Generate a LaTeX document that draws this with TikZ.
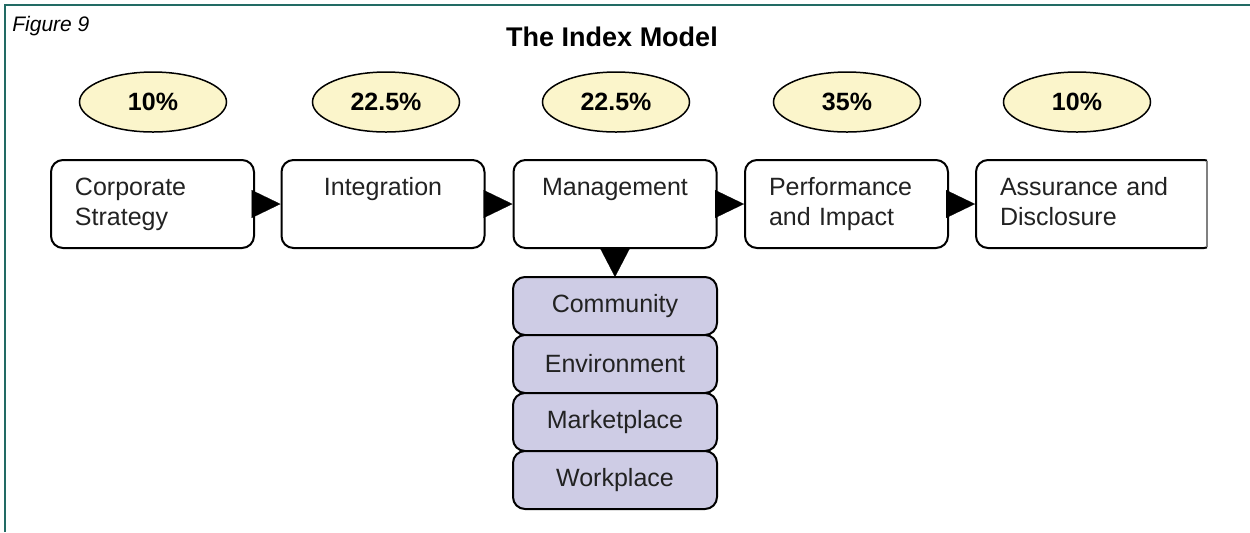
\documentclass[tikz,border=0pt]{standalone}
\usepackage{fontspec}
\setmainfont{Liberation Sans}
\usetikzlibrary{positioning,shapes.geometric,arrows.meta}
\definecolor{frameteal}{HTML}{226B64}
\definecolor{pctyellow}{HTML}{FBF5CB}
\definecolor{sublilac}{HTML}{CECCE5}
\definecolor{boxtext}{HTML}{222222}

\begin{document}
\begin{tikzpicture}[x=0.5pt,y=-0.5pt,
  stage/.style={draw=black, line width=1pt, rounded corners=6pt, fill=white, text=boxtext,
    minimum height=44pt, inner xsep=12pt, inner ysep=0pt, text width=77.5pt, align=left,
    font=\fontsize{12.5}{15}\selectfont,
    execute at begin node=\strut, execute at end node=\strut},
  stagemid/.style={stage, align=center},
  pct/.style={ellipse, draw=black, line width=0.75pt, fill=pctyellow,
    minimum width=73.5pt, minimum height=30pt, inner sep=0pt,
    font=\fontsize{12.5}{15}\selectfont\bfseries},
  part/.style={draw=black, line width=1pt, rounded corners=6pt, fill=sublilac, text=boxtext,
    minimum width=102pt, minimum height=29pt, outer sep=0pt,
    font=\fontsize{12.5}{15}\selectfont},
  flow/.style={-{Triangle[length=14.5pt,width=14pt]}, line width=0.1pt},
  flowdown/.style={-{Triangle[length=14.5pt,width=15pt]}, line width=0.1pt}]
\useasboundingbox (0,0) rectangle (1250,532);

%frame
\draw[frameteal, line width=1pt] (5,532) -- (5,5) -- (1250,5);

%headings
\node[anchor=base west, inner sep=0pt, font=\fontsize{10.5}{12}\selectfont\itshape] (fig) at (12,31) {Figure 9};
\node[font=\fontsize{13.5}{16}\selectfont\bfseries] (title) at (612,37) {The Index Model};

%weights
\node[pct] (w1) at (153,102) {10\%};
\node[pct] (w2) at (386,102) {22.5\%};
\node[pct] (w3) at (616,102) {22.5\%};
\node[pct] (w4) at (847,102) {35\%};
\node[pct] (w5) at (1077,102) {10\%};

%stages
\node[stage] (corp) at (152.5,204) {Corporate\\Strategy};
\node[stagemid] (integ) at (383,204) {Integration\\};
\node[stagemid] (mgmt) at (615,204) {Management\\};
\node[stage] (perf) at (846.5,204) {Performance\\and Impact};
\begin{scope}
\clip (960,150) rectangle (1207,260);
\node[stage, text width=96pt, anchor=west] (assur) at (975,204) {Assurance and\\Disclosure};
\end{scope}
\draw[gray, line width=1pt] (1207,161) -- (1207,247);

%flow
\draw[flow] (corp.east) -- (integ.west);
\draw[flow] (integ.east) -- (mgmt.west);
\draw[flow] (mgmt.east) -- (perf.west);
\draw[flow] (perf.east) -- (assur.west);

%management areas
\node[part] (comm) at (615,306) {Community};
\node[part] (env) at (615,364) {Environment};
\node[part] (mkt) at (615,422) {Marketplace};
\node[part] (work) at (615,480) {Workplace};
\draw[flowdown] (mgmt.south) -- (comm.north);

\end{tikzpicture}
\end{document}
